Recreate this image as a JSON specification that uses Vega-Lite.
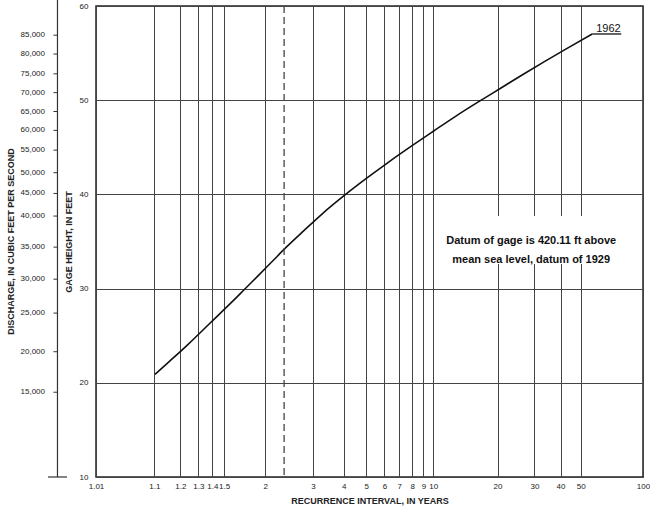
{
  "$schema": "https://vega.github.io/schema/vega-lite/v6.json",
  "description": "Stage-frequency curve on Gumbel probability paper, 1962.",
  "autosize": "none",
  "width": 547,
  "height": 471,
  "padding": {"left": 96, "top": 6, "right": 7, "bottom": 33},
  "background": "white",
  "datasets": {
    "curve": [
      {"variate": -0.868, "stage": 20.9},
      {"variate": -0.7, "stage": 22.33},
      {"variate": -0.5, "stage": 24.06},
      {"variate": -0.25, "stage": 26.35},
      {"variate": 0.0, "stage": 28.64},
      {"variate": 0.15, "stage": 30.07},
      {"variate": 0.3, "stage": 31.49},
      {"variate": 0.45, "stage": 32.93},
      {"variate": 0.6, "stage": 34.37},
      {"variate": 0.8, "stage": 36.15},
      {"variate": 1.0, "stage": 37.89},
      {"variate": 1.25, "stage": 39.86},
      {"variate": 1.5, "stage": 41.69},
      {"variate": 1.75, "stage": 43.43},
      {"variate": 2.0, "stage": 45.09},
      {"variate": 2.25, "stage": 46.7},
      {"variate": 2.5, "stage": 48.29},
      {"variate": 2.75, "stage": 49.79},
      {"variate": 3.0, "stage": 51.24},
      {"variate": 3.25, "stage": 52.7},
      {"variate": 3.5, "stage": 54.12},
      {"variate": 3.75, "stage": 55.5},
      {"variate": 4.031, "stage": 57.03}
    ],
    "flood_1962": [
      {"label": "1962", "variate": 4.031, "stage": 57.03}
    ],
    "mean_annual_flood": [
      {"interval": 2.33, "variate": 0.5786}
    ],
    "rating": [
      {"discharge": 85000, "stage": 56.9},
      {"discharge": 80000, "stage": 54.9},
      {"discharge": 75000, "stage": 52.8},
      {"discharge": 70000, "stage": 50.8},
      {"discharge": 65000, "stage": 48.8},
      {"discharge": 60000, "stage": 46.8},
      {"discharge": 55000, "stage": 44.7},
      {"discharge": 50000, "stage": 42.3},
      {"discharge": 45000, "stage": 40.1},
      {"discharge": 40000, "stage": 37.7},
      {"discharge": 35000, "stage": 34.4},
      {"discharge": 30000, "stage": 31.0},
      {"discharge": 25000, "stage": 27.4},
      {"discharge": 20000, "stage": 23.3},
      {"discharge": 15000, "stage": 19.0}
    ],
    "note": [
      {"text": ["Datum of gage is 420.11 ft above", "mean sea level, datum of 1929"], "variate": 3.347, "stage": 35.04}
    ]
  },
  "layer": [
    {
      "data": {"name": "curve"},
      "mark": {"type": "line", "color": "#111", "strokeWidth": 1.6, "interpolate": "monotone"},
      "encoding": {
        "x": {
          "field": "variate",
          "type": "quantitative",
          "scale": {"domain": [-1.5293, 4.6001], "nice": false, "zero": false},
          "axis": {
            "title": "RECURRENCE INTERVAL, IN YEARS",
            "values": [-1.5293, -0.8746, -0.5832, -0.3828, -0.2254, -0.094, 0.3665, 0.9027, 1.2459, 1.4999, 1.702, 1.8698, 2.0134, 2.1389, 2.2504, 2.9702, 3.3843, 3.6762, 3.9019, 4.6001],
            "tickCount": 40,
            "labelExpr": "datum.value < 0.3 ? toString(round(100 / (1 - exp(-exp(-datum.value)))) / 100) : toString(round(1 / (1 - exp(-exp(-datum.value)))))",
            "labelOverlap": false,
            "labelBound": false,
            "labelFlush": false,
            "grid": true,
            "ticks": false,
            "domain": false,
            "labelPadding": 5,
            "titlePadding": 6
          }
        },
        "y": {
          "field": "stage",
          "type": "quantitative",
          "scale": {"domain": [10, 60], "nice": false, "zero": false},
          "axis": {
            "title": "GAGE HEIGHT, IN FEET",
            "values": [10, 20, 30, 40, 50, 60],
            "grid": true,
            "ticks": false,
            "domain": false,
            "labelPadding": 8,
            "titlePadding": 6
          }
        }
      }
    },
    {
      "data": {"name": "mean_annual_flood"},
      "mark": {"type": "rule", "color": "#444", "strokeWidth": 1.3, "strokeDash": [7, 4]},
      "encoding": {
        "x": {"field": "variate", "type": "quantitative"}
      }
    },
    {
      "data": {"name": "note"},
      "mark": {"type": "rect", "fill": "white"},
      "encoding": {
        "x": {"datum": 2.305, "type": "quantitative"},
        "x2": {"datum": 4.401},
        "y": {"datum": 37.71, "type": "quantitative"},
        "y2": {"datum": 32.61}
      }
    },
    {
      "data": {"name": "note"},
      "mark": {"type": "text", "font": "Liberation Sans", "fontSize": 11, "fontWeight": "bold", "color": "#111", "lineHeight": 19, "baseline": "middle", "align": "center"},
      "encoding": {
        "x": {"field": "variate", "type": "quantitative"},
        "y": {"field": "stage", "type": "quantitative"},
        "text": {"field": "text"}
      }
    },
    {
      "data": {"name": "flood_1962"},
      "mark": {"type": "text", "font": "Liberation Sans", "fontSize": 11, "color": "#111", "align": "left", "baseline": "alphabetic", "dx": 4, "dy": -2},
      "encoding": {
        "x": {"field": "variate", "type": "quantitative"},
        "y": {"field": "stage", "type": "quantitative"},
        "text": {"field": "label"}
      }
    },
    {
      "data": {"name": "flood_1962"},
      "mark": {"type": "rule", "color": "#111", "strokeWidth": 1.3},
      "encoding": {
        "x": {"field": "variate", "type": "quantitative"},
        "x2": {"datum": 4.356},
        "y": {"field": "stage", "type": "quantitative"}
      }
    },
    {
      "data": {"name": "rating"},
      "mark": {"type": "text", "font": "Liberation Sans", "fontSize": 8, "color": "#222", "align": "right", "baseline": "middle"},
      "encoding": {
        "x": {"datum": -2.101, "type": "quantitative"},
        "y": {"field": "stage", "type": "quantitative"},
        "text": {"field": "discharge", "type": "quantitative", "format": ","}
      }
    },
    {
      "data": {"name": "rating"},
      "mark": {"type": "rule", "color": "#333", "strokeWidth": 1},
      "encoding": {
        "x": {"datum": -2.006, "type": "quantitative"},
        "x2": {"datum": -1.961},
        "y": {"field": "stage", "type": "quantitative"}
      }
    },
    {
      "data": {"values": [{}]},
      "mark": {"type": "rule", "color": "#333", "strokeWidth": 1.2},
      "encoding": {
        "x": {"datum": -1.961, "type": "quantitative"},
        "y": {"datum": 10, "type": "quantitative"},
        "y2": {"datum": 60.64}
      }
    },
    {
      "data": {"values": [{}]},
      "mark": {"type": "rule", "color": "#333", "strokeWidth": 1.2},
      "encoding": {
        "x": {"datum": -2.067, "type": "quantitative"},
        "x2": {"datum": -1.854},
        "y": {"datum": 10, "type": "quantitative"}
      }
    },
    {
      "data": {"values": [{}]},
      "mark": {"type": "text", "text": "DISCHARGE, IN CUBIC FEET PER SECOND", "font": "Liberation Sans", "fontSize": 9, "fontWeight": "bold", "color": "#222", "angle": 270, "align": "center", "baseline": "middle"},
      "encoding": {
        "x": {"datum": -2.482, "type": "quantitative"},
        "y": {"datum": 35.0, "type": "quantitative"}
      }
    }
  ],
  "config": {
    "view": {"stroke": "#222", "strokeWidth": 1.5},
    "axis": {
      "labelFont": "Liberation Sans",
      "labelFontSize": 8,
      "labelColor": "#222",
      "titleFont": "Liberation Sans",
      "titleFontSize": 9,
      "titleFontWeight": "bold",
      "titleColor": "#222",
      "gridColor": "#444",
      "gridOpacity": 1,
      "gridWidth": 1
    }
  }
}
